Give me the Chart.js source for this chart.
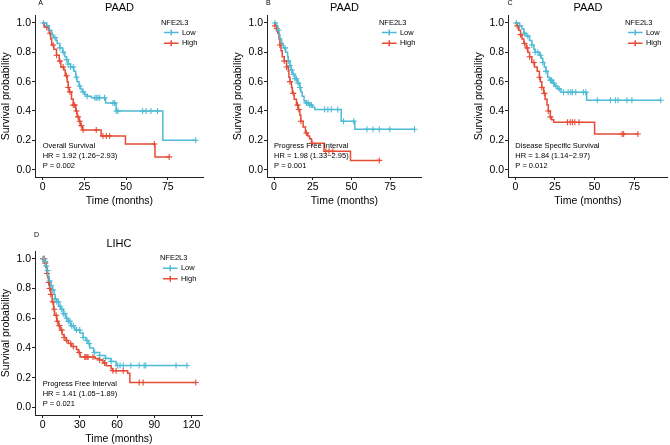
<!DOCTYPE html>
<html>
<head>
<meta charset="utf-8">
<script src="https://cdn.jsdelivr.net/npm/chart.js@4.4.1/dist/chart.umd.min.js"></script>
<style>
  html, body { margin: 0; padding: 0; background: #fff; overflow: hidden; }
  body { width: 670px; height: 445px; position: relative; }
  .panel { position: absolute; }
</style>
</head>
<body>
<div class="panel" id="pA"><canvas id="cA"></canvas></div>
<div class="panel" id="pB"><canvas id="cB"></canvas></div>
<div class="panel" id="pC"><canvas id="cC"></canvas></div>
<div class="panel" id="pD"><canvas id="cD"></canvas></div>
<script>
/* ---------------- DATA ---------------- */
const yTicks = [0, 0.2, 0.4, 0.6, 0.8, 1.0];
const xTicksPAAD = [0, 25, 50, 75];
const xTicksLIHC = [0, 30, 60, 90, 120];

// A: PAAD overall survival
const aLowTime = [0, 2.4, 4, 5.4, 6.3, 8, 8.7, 10.3, 12, 13.3, 14.3, 15.3, 16.7, 18.7, 19.8, 20.6, 21.8, 22.6, 23.8, 25.2, 26.6, 29.2, 37.7, 44, 72, 91.7];
const aLowSurv = [1, 0.98, 0.95, 0.92, 0.90, 0.88, 0.86, 0.83, 0.80, 0.77, 0.75, 0.72, 0.70, 0.67, 0.63, 0.60, 0.57, 0.55, 0.53, 0.51, 0.50, 0.49, 0.455, 0.40, 0.20, 0.20];
const aLowCensor = [0.4, 2.4, 7.3, 10.3, 12.3, 14.3, 15.3, 16.7, 18.3, 20.2, 22.2, 24.2, 26.6, 31.2, 32.1, 33.1, 34.1, 37.1, 42.1, 43.1, 44.1, 45.1, 59.9, 61.9, 64.9, 68.8, 91.7];
const aHighTime = [0, 1, 3.4, 4, 4.8, 5.4, 6.7, 8.3, 9.9, 10.9, 12.7, 13.5, 14.7, 15.3, 15.9, 17.3, 18.3, 19.8, 20.6, 21.8, 22.6, 23.8, 35, 49.6, 67.3, 76.2];
const aHighSurv = [1, 0.97, 0.95, 0.93, 0.89, 0.85, 0.82, 0.78, 0.74, 0.70, 0.68, 0.64, 0.60, 0.56, 0.53, 0.48, 0.44, 0.40, 0.36, 0.33, 0.30, 0.27, 0.23, 0.175, 0.087, 0.087];
const aHighCensor = [2.4, 4.4, 6.3, 8.3, 10.3, 12.3, 14.3, 15.3, 16.3, 18.3, 19.2, 20.2, 21.2, 22.2, 23.2, 24.2, 32.1, 36.1, 38.1, 40.1, 66.9, 75.8];

// B: PAAD progress free interval
const bLowTime = [0, 1.7, 2.4, 3.2, 3.8, 4.9, 6, 7.5, 8.8, 9.2, 10.3, 10.9, 11.8, 13.5, 15.2, 16.7, 17.3, 18.2, 19.4, 20.3, 23, 24.6, 26.3, 43.4, 52.2, 90.8];
const bLowSurv = [1, 0.98, 0.95, 0.92, 0.89, 0.86, 0.83, 0.80, 0.77, 0.74, 0.71, 0.68, 0.65, 0.62, 0.59, 0.56, 0.53, 0.50, 0.47, 0.455, 0.44, 0.425, 0.41, 0.33, 0.275, 0.275];
const bLowCensor = [0.6, 2.8, 7.1, 9.2, 10.3, 11.3, 12.4, 13.5, 14.5, 15.6, 16.7, 20.9, 22, 23, 24.1, 32.7, 34.8, 37, 41.2, 44.9, 51.5, 60, 64, 68, 74.8, 90.8];
const bHighTime = [0, 0.6, 1.7, 2.4, 3.2, 3.8, 4.5, 5.3, 6.6, 8.1, 9.2, 9.6, 10.3, 11.3, 11.8, 13, 14.5, 15.6, 16.7, 17.3, 18.8, 20.3, 21.8, 23, 24.2, 32.3, 49.4, 68];
const bHighSurv = [1, 0.98, 0.96, 0.93, 0.89, 0.85, 0.81, 0.77, 0.74, 0.70, 0.67, 0.63, 0.60, 0.56, 0.52, 0.48, 0.44, 0.41, 0.37, 0.33, 0.29, 0.25, 0.23, 0.21, 0.18, 0.125, 0.063, 0.063];
const bHighCensor = [0.6, 1.7, 3.8, 6.6, 8.1, 10.3, 12.4, 15.2, 16, 17.3, 20.9, 24.6, 33.5, 35.5, 38, 68];

// C: PAAD disease specific survival
const cLowTime = [0, 2.7, 4.2, 5.4, 6.9, 9, 10.4, 11.7, 12.5, 15.2, 16.3, 17.3, 18.3, 19.4, 20.4, 21.5, 23.5, 24.6, 26.7, 28.8, 45, 91.7];
const cLowSurv = [1, 0.98, 0.96, 0.93, 0.91, 0.88, 0.85, 0.82, 0.80, 0.78, 0.76, 0.73, 0.70, 0.67, 0.63, 0.61, 0.59, 0.57, 0.55, 0.527, 0.473, 0.473];
const cLowCensor = [0.6, 2.7, 5.8, 7.9, 10.4, 12.5, 14.2, 15.8, 17.3, 19.4, 22.1, 22.9, 24.2, 25.6, 27.7, 30.4, 33.3, 35, 36, 38.1, 42.9, 44.4, 51.7, 60, 63.1, 64.8, 70.4, 73.5, 91.7];
const cHighTime = [0, 1.2, 2.1, 3.3, 4.2, 5.4, 6.9, 7.9, 9, 10.4, 12.1, 13.8, 15.2, 15.8, 16.7, 17.9, 18.8, 20, 20.8, 22.1, 22.9, 24.2, 50, 77.3];
const cHighSurv = [1, 0.98, 0.95, 0.92, 0.89, 0.86, 0.83, 0.80, 0.77, 0.73, 0.70, 0.67, 0.63, 0.60, 0.56, 0.52, 0.48, 0.44, 0.40, 0.36, 0.34, 0.323, 0.243, 0.243];
const cHighCensor = [1.2, 3.3, 5.8, 7.5, 9, 11.7, 15.2, 16.7, 18.3, 20.8, 22.1, 32.9, 34.6, 36, 37.5, 40.2, 67.3, 68.3, 77.3];

// D: LIHC progress free interval
const dLowTime = [0, 1.3, 2.4, 3.5, 4.2, 5.3, 6.6, 8, 9.3, 10.1, 11.4, 13, 14.6, 16.7, 18.6, 20.4, 22.6, 26, 30, 32.7, 34.8, 36.6, 38, 41.1, 45.9, 50.7, 55.2, 59.2, 116.3];
const dLowSurv = [1, 0.98, 0.95, 0.92, 0.88, 0.85, 0.82, 0.79, 0.76, 0.73, 0.71, 0.68, 0.66, 0.63, 0.60, 0.58, 0.55, 0.52, 0.50, 0.47, 0.45, 0.43, 0.40, 0.37, 0.35, 0.33, 0.31, 0.282, 0.282];
const dLowCensor = [0.8, 2.1, 2.9, 4, 5.6, 6.6, 8.2, 10.1, 11.4, 12.7, 14.1, 15.4, 16.7, 18, 19.4, 20.7, 22, 23.4, 24.7, 27.3, 29.9, 32.7, 35.8, 37.4, 41.9, 45.9, 50.7, 55.2, 60.5, 62.4, 65, 71.1, 77.8, 81.8, 83.1, 107.5, 116.3];
const dHighTime = [0, 1.6, 2.7, 3.5, 4.2, 4.8, 5.6, 6.6, 7.7, 8.8, 9.6, 11.4, 12.7, 14.1, 15.7, 17.3, 18.8, 20.7, 23.4, 27.3, 28.7, 30.2, 42.2, 45.9, 48.6, 51.2, 55.2, 56.6, 68.5, 70.3, 123.4];
const dHighSurv = [1, 0.97, 0.94, 0.90, 0.87, 0.84, 0.80, 0.76, 0.71, 0.66, 0.62, 0.58, 0.55, 0.52, 0.49, 0.47, 0.45, 0.43, 0.41, 0.39, 0.37, 0.34, 0.33, 0.32, 0.30, 0.28, 0.26, 0.248, 0.23, 0.168, 0.168];
const dHighCensor = [0.3, 1.3, 2.1, 3.5, 4.8, 5.6, 6.6, 8.2, 9.3, 10.9, 11.9, 13.5, 15.4, 17.3, 19.4, 22.6, 24.7, 29.5, 34, 34.8, 35.8, 36.6, 40.6, 45.9, 49.9, 56.6, 59.2, 65, 77.8, 81, 123.4];

/* ---------------- STYLE / LAYOUT ---------------- */
const LOW_COLOR = "#4DBBD5";
const HIGH_COLOR = "#E64B35";
const FONT = '"Liberation Sans", Arial, Helvetica, sans-serif';
Chart.defaults.font.family = FONT;
Chart.defaults.color = "#000";

const panels = [
    { canvas: "cA", div: "pA", letter: "A", title: "PAAD", notes: ["Overall Survival", "HR = 1.92 (1.26\u22122.93)", "P = 0.002"],
      low: [aLowTime, aLowSurv, aLowCensor], high: [aHighTime, aHighSurv, aHighCensor],
      xTicks: xTicksPAAD, xMin: -4.6, xMax: 96.6,
      box: { left: 35, right: 205, top: 15.6, bottom: 177.4 }, canvasTop: 0, letterX: 38.3, letterY: 3.5 },
    { canvas: "cB", div: "pB", letter: "B", title: "PAAD", notes: ["Progress Free Interval", "HR = 1.98 (1.33\u22122.95)", "P = 0.001"],
      low: [bLowTime, bLowSurv, bLowCensor], high: [bHighTime, bHighSurv, bHighCensor],
      xTicks: xTicksPAAD, xMin: -4.55, xMax: 95.55,
      box: { left: 266.8, right: 423, top: 15.6, bottom: 177.4 }, canvasTop: 0, letterX: 34, letterY: 3.5 },
    { canvas: "cC", div: "pC", letter: "C", title: "PAAD", notes: ["Disease Specific Survival", "HR = 1.84 (1.14\u22122.97)", "P = 0.012"],
      low: [cLowTime, cLowSurv, cLowCensor], high: [cHighTime, cHighSurv, cHighCensor],
      xTicks: xTicksPAAD, xMin: -4.6, xMax: 96.2,
      box: { left: 508.3, right: 669.6, top: 15.6, bottom: 177.4 }, canvasTop: 0, letterX: 34.4, letterY: 3.5 },
    { canvas: "cD", div: "pD", letter: "D", title: "LIHC", notes: ["Progress Free Interval", "HR = 1.41 (1.05\u22121.89)", "P = 0.021"],
      low: [dLowTime, dLowSurv, dLowCensor], high: [dHighTime, dHighSurv, dHighCensor],
      xTicks: xTicksLIHC, xMin: -6.15, xMax: 129.15,
      box: { left: 34.6, right: 203.4, top: 251.2, bottom: 415.2 }, canvasTop: 220, letterX: 34, letterY: 15 }
];

const Y_AXIS_W = 35;
const X_AXIS_H = 30;
const PAD_RIGHT = 4;

function stepPoints(times, surv) {
    return times.map((t, i) => ({ x: t, y: surv[i] }));
}

function survAt(times, surv, t) {
    let s = surv[0];
    for (let i = 0; i < times.length; i++) {
        if (times[i] <= t) s = surv[i];
    }
    return s;
}

function censorPoints(times, surv, censor) {
    return censor.map(t => ({ x: t, y: survAt(times, surv, t) }));
}

/* draws panel letter, title, legend and the HR note */
const overlayPlugin = {
    id: "overlay",
    afterDraw(chart, args, opts) {
        const { ctx, chartArea: a, scales } = chart;
        ctx.save();
        ctx.fillStyle = "#000";
        ctx.textBaseline = "middle";

        ctx.font = "7px " + FONT;
        ctx.textAlign = "left";
        ctx.fillText(opts.letter, opts.letterX, opts.letterY);

        ctx.font = "11px " + FONT;
        ctx.textAlign = "center";
        ctx.fillText(opts.title, (a.left + a.right) / 2, a.top - 7.3);

        ctx.font = "7.5px " + FONT;
        ctx.textAlign = "left";
        const x0 = scales.x.getPixelForValue(0);
        opts.notes.forEach((t, i) => ctx.fillText(t, x0, a.bottom - 31.5 + i * 10.3));

        const lx = a.right - 43;
        const ly = a.top + 7;
        ctx.fillText("NFE2L3", lx, ly);
        [["Low", LOW_COLOR], ["High", HIGH_COLOR]].forEach(([label, color], i) => {
            const y = ly + 10 + i * 10.6;
            ctx.strokeStyle = color;
            ctx.lineWidth = 1.5;
            ctx.beginPath();
            ctx.moveTo(lx + 3, y);
            ctx.lineTo(lx + 17.7, y);
            ctx.moveTo(lx + 10.35, y - 3);
            ctx.lineTo(lx + 10.35, y + 3);
            ctx.stroke();
            ctx.fillText(label, lx + 21, y);
        });
        ctx.restore();
    }
};

/* ---------------- RENDER ---------------- */
panels.forEach(p => {
    const div = document.getElementById(p.div);
    const left = p.box.left - Y_AXIS_W;
    const width = Math.round(p.box.right - left + PAD_RIGHT);
    const height = Math.round(p.box.bottom + X_AXIS_H - p.canvasTop);
    div.style.left = left + "px";
    div.style.top = p.canvasTop + "px";
    div.style.width = width + "px";
    div.style.height = height + "px";

    const [lt, ls, lc] = p.low;
    const [ht, hs, hc] = p.high;

    const lineSet = (data, color) => ({
        data, borderColor: color, backgroundColor: color,
        borderWidth: 1.5, stepped: "before", pointRadius: 0, fill: false
    });
    const censorSet = (data, color) => ({
        data, showLine: false, borderColor: color, backgroundColor: color,
        pointStyle: "cross", pointRadius: 3, pointBorderWidth: 1.1
    });

    new Chart(document.getElementById(p.canvas), {
        type: "line",
        data: {
            datasets: [
                lineSet(stepPoints(lt, ls), LOW_COLOR),
                lineSet(stepPoints(ht, hs), HIGH_COLOR),
                censorSet(censorPoints(lt, ls, lc), LOW_COLOR),
                censorSet(censorPoints(ht, hs, hc), HIGH_COLOR)
            ]
        },
        options: {
            responsive: true,
            maintainAspectRatio: false,
            animation: false,
            layout: { padding: { left: 0, top: p.box.top - p.canvasTop, right: PAD_RIGHT, bottom: 0 } },
            plugins: {
                legend: { display: false },
                tooltip: { enabled: false },
                overlay: { letter: p.letter, title: p.title, notes: p.notes, letterX: p.letterX, letterY: p.letterY }
            },
            scales: {
                x: {
                    type: "linear",
                    min: p.xMin,
                    max: p.xMax,
                    afterBuildTicks: s => { s.ticks = p.xTicks.map(v => ({ value: v })); },
                    afterFit: s => { s.height = X_AXIS_H; },
                    grid: { drawOnChartArea: false, drawTicks: true, tickLength: 3, color: "#222" },
                    border: { display: true, color: "#222", width: 1 },
                    ticks: { padding: 1, font: { size: 10.5 }, color: "#000", maxRotation: 0 },
                    title: { display: true, text: "Time (months)", font: { size: 10.5 }, padding: 0, color: "#000" }
                },
                y: {
                    min: -0.05,
                    max: 1.05,
                    afterBuildTicks: s => { s.ticks = yTicks.map(v => ({ value: v })); },
                    afterFit: s => { s.width = Y_AXIS_W; },
                    grid: { drawOnChartArea: false, drawTicks: true, tickLength: 3, color: "#222" },
                    border: { display: true, color: "#222", width: 1 },
                    ticks: { padding: 1, font: { size: 10.5 }, color: "#000", callback: v => v.toFixed(1) },
                    title: { display: true, text: "Survival probability", font: { size: 10.5 }, padding: 0, color: "#000" }
                }
            }
        },
        plugins: [overlayPlugin]
    });
});
</script>
</body>
</html>
